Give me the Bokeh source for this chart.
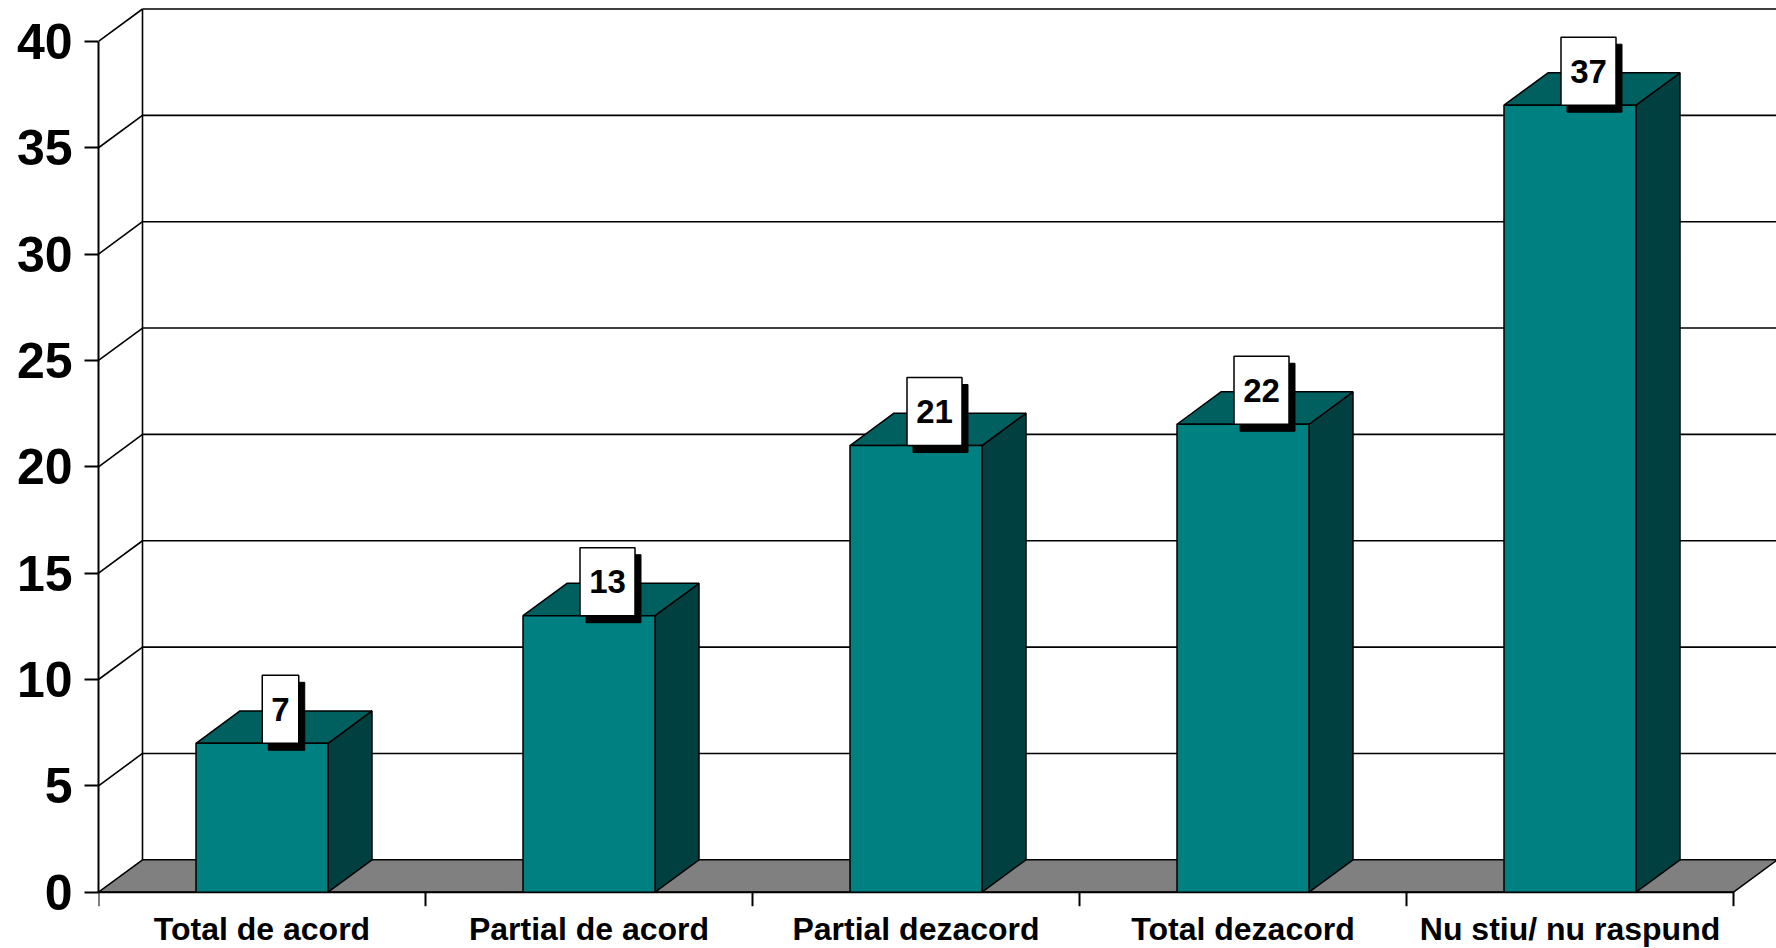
from bokeh.plotting import figure
from bokeh.models import Range1d, FixedTicker
from bokeh.core.properties import value
from bokeh.embed import file_html
from bokeh.resources import INLINE

# ---- data ----
categories = ["Total de acord", "Partial de acord", "Partial dezacord", "Total dezacord", "Nu stiu/ nu raspund"]
values = [7, 13, 21, 22, 37]
y_ticks = [0, 5, 10, 15, 20, 25, 30, 35, 40]

# ---- layout constants (pixels) ----
W, H = 1776, 948
LEFT = 98            # frame starts at x=0 data
XPX = 327.0          # px per category
YPX = 21.27          # px per y unit
Y0_FROM_TOP = 891.7  # figure px where y=0
DXPX, DYPX = 44.0, 32.4
DX, DY = DXPX / XPX, DYPX / YPX
BW = 132.0 / XPX
FONT = value("Liberation Sans")

n = len(categories)
x_end = (W - LEFT) / XPX
y_end = Y0_FROM_TOP / YPX
y_start = -(H - Y0_FROM_TOP) / YPX

p = figure(width=W, height=H, output_backend="svg", toolbar_location=None,
           x_range=Range1d(0, x_end), y_range=Range1d(y_start, y_end),
           x_axis_location=None, y_axis_location="left",
           min_border_left=LEFT, min_border_right=0, min_border_top=0, min_border_bottom=0)
p.outline_line_color = None
p.grid.visible = False
p.background_fill_color = "white"

ax = p.yaxis[0]
ax.ticker = FixedTicker(ticks=y_ticks, minor_ticks=[])
ax.bounds = (y_ticks[0], y_ticks[-1])
ax.axis_line_width = 2
ax.axis_line_color = "black"
ax.major_tick_in = 0
ax.major_tick_out = 14
ax.major_tick_line_width = 2
ax.minor_tick_line_color = None
ax.major_label_text_font = "Liberation Sans"
ax.major_label_text_font_style = "bold"
ax.major_label_text_font_size = "50px"
ax.major_label_text_color = "black"
ax.major_label_standoff = 12

# ---- floor ----
xmax = float(n)
p.patch([0, xmax, xmax + DX, DX], [0, 0, DY, DY], fill_color="#808080",
        line_color="black", line_width=1.5)

# ---- back wall gridlines ----
grid_vals = [v for v in y_ticks if v > 0]
p.segment(x0=[0] * len(grid_vals), y0=grid_vals,
          x1=[DX] * len(grid_vals), y1=[v + DY for v in grid_vals],
          line_color="black", line_width=1.6)
p.segment(x0=[DX] * len(grid_vals), y0=[v + DY for v in grid_vals],
          x1=[x_end + 1] * len(grid_vals), y1=[v + DY for v in grid_vals],
          line_color="black", line_width=1.6)
p.segment(x0=[DX], y0=[DY], x1=[DX], y1=[y_ticks[-1] + DY], line_color="black", line_width=1.6)

# ---- front x axis line and ticks ----
bounds = list(range(n + 1))
p.segment(x0=[0], y0=[0], x1=[xmax], y1=[0], line_color="black", line_width=2)
p.segment(x0=bounds, y0=[0] * len(bounds), x1=bounds, y1=[-14 / YPX] * len(bounds),
          line_color="black", line_width=2)

# ---- bars ----
centers = [i + 0.5 for i in range(n)]
lefts = [c - BW / 2 for c in centers]
rights = [c + BW / 2 for c in centers]

for l, r, v in zip(lefts, rights, values):
    p.patch([r, r, r + DX, r + DX], [0, v, v + DY, DY], fill_color="#004040",
            line_color="black", line_width=1.5)
    p.patch([l, r, r + DX, l + DX], [v, v, v + DY, v + DY], fill_color="#006060",
            line_color="black", line_width=1.5)
p.quad(left=lefts, right=rights, bottom=[0] * n, top=values, fill_color="#008080",
       line_color="black", line_width=1.5)

# ---- value labels ----
lab_text = [str(v) for v in values]
box_w = [18 + 18.5 * len(t) for t in lab_text]
bx = [c + 18.5 / XPX for c in centers]
by = [v + 34 / YPX for v in values]
p.rect(x=[x + 6 / XPX for x in bx], y=[y - 7 / YPX for y in by], width=box_w, height=[68] * n,
       width_units="screen", height_units="screen", fill_color="black", line_color="black")
p.rect(x=bx, y=by, width=box_w, height=[68] * n, width_units="screen", height_units="screen",
       fill_color="white", line_color="black", line_width=1.5)
p.text(x=bx, y=by, text=lab_text, text_align="center", text_baseline="middle",
       text_font=FONT, text_font_style="bold", text_font_size="33px", text_color="black")

# ---- category labels ----
p.text(x=centers, y=[-36.5 / YPX] * n, text=categories, text_align="center",
       text_baseline="middle", text_font=FONT, text_font_style="bold",
       text_font_size="32px", text_color="black")

open("out.html", "w").write(file_html(p, INLINE))
